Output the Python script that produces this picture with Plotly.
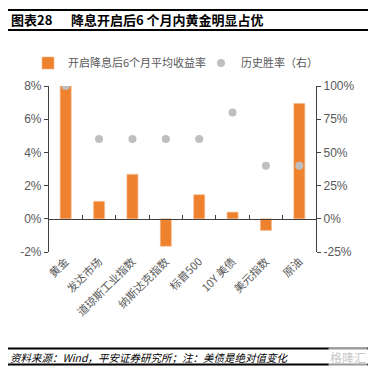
import plotly.graph_objects as go

categories = ["黄金", "发达市场", "道琼斯工业指数", "纳斯达克指数", "标普500", "10Y 美债", "美元指数", "原油"]
avg_return = [8.0, 1.05, 2.68, -1.65, 1.45, 0.4, -0.7, 6.95]
win_rate = [100, 60, 60, 60, 60, 80, 40, 40]
left_ticks = [-2, 0, 2, 4, 6, 8]
right_ticks = [-25, 0, 25, 50, 75, 100]

ORANGE = "#EE822F"
GREY = "#BFBFBF"
AX = "#404040"
TXT = "#595959"
FONT = "Noto Sans CJK SC"

fig = go.Figure()
fig.add_trace(go.Bar(
    x=categories, y=avg_return, name="开启降息后6个月平均收益率",
    marker=dict(color=ORANGE, line=dict(color="#F6B98A", width=0.6)),
    width=0.33, yaxis="y", xaxis="x", legend="legend",
))
fig.add_trace(go.Scatter(
    x=categories, y=win_rate, name="历史胜率（右）", mode="markers",
    marker=dict(color=GREY, size=8), yaxis="y2", xaxis="x", legend="legend2",
))
# dummy trace to activate xaxis2 (zero-line axis)
fig.add_trace(go.Scatter(x=categories, y=[None]*len(categories), xaxis="x2", yaxis="y",
                         showlegend=False, hoverinfo="skip"))

# page has an 8px body margin -> compensate
leg_common = dict(orientation="h", xref="container", yref="container",
                  xanchor="left", y=1 - 55/378, yanchor="middle",
                  font=dict(size=11, color=TXT, family=FONT), bgcolor="rgba(0,0,0,0)",
                  itemwidth=30)

fig.update_layout(
    width=376, height=378,
    margin=dict(l=41, r=68, t=78, b=134, autoexpand=False),
    paper_bgcolor="white", plot_bgcolor="white",
    font=dict(family=FONT, size=11, color=TXT),
    showlegend=True,
    legend=dict(leg_common, x=20/376),
    legend2=dict(leg_common, x=193/376),
    xaxis=dict(type="category", categoryorder="array", categoryarray=categories,
               range=[-0.5, 7.5], showline=False, ticks="", tickangle=-45,
               tickfont=dict(size=11, color=TXT, family=FONT), showgrid=False),
    xaxis2=dict(type="category", categoryorder="array", categoryarray=categories,
                range=[-0.5, 7.5], overlaying="x", anchor="free", position=0.2,
                side="bottom", showline=True, linecolor=AX, linewidth=1.2,
                ticks="inside", tickson="boundaries", ticklen=4, tickcolor=AX,
                showticklabels=False, showgrid=False),
    yaxis=dict(range=[-2, 8], tickvals=left_ticks,
               ticktext=[f"{v}%" for v in left_ticks],
               showline=True, linecolor=AX, linewidth=1.2, ticks="outside",
               ticklen=4, tickcolor=AX, showgrid=False, zeroline=False,
               tickfont=dict(size=12, color=TXT, family="Liberation Sans")),
    yaxis2=dict(range=[-25, 100], tickvals=right_ticks,
                ticktext=[f"{v}%" for v in right_ticks],
                overlaying="y", side="right", anchor="x",
                showline=True, linecolor=AX, linewidth=1.2, ticks="outside",
                ticklen=4, tickcolor=AX, showgrid=False, zeroline=False,
                tickfont=dict(size=12, color=TXT, family="Liberation Sans")),
)

def hline(ypx, w):
    yp = (252 - ypx) / 166
    return dict(type="line", xref="paper", yref="paper",
                x0=(8-49)/267, x1=(368-49)/267, y0=yp, y1=yp,
                line=dict(color="black", width=w))
fig.layout.shapes = [hline(10, 2.2), hline(30, 2.2), hline(348.5, 1.8), hline(364.5, 1.8)]

def ann(xpx, ypx, text, size, anchor="left", **kw):
    color = kw.pop("color", "black")
    fig.add_annotation(xref="paper", yref="paper", x=(xpx-49)/267, y=(252-ypx)/166,
                       xanchor=anchor, yanchor="middle", showarrow=False,
                       text=text, font=dict(size=size, color=color, family=FONT), **kw)

ann(9, 20, "<b>图表28</b>", 13)
ann(69, 20, "<b>降息开启后6 个月内黄金明显占优</b>", 13)
ann(8, 357, "<i>资料来源：Wind，平安证券研究所；注：美债是绝对值变化</i>", 10.5)
ann(368, 357, "格隆汇", 12, anchor="right", color="#C8C8C8", bgcolor="rgba(255,255,255,0.6)")

fig.write_html("out.html")
